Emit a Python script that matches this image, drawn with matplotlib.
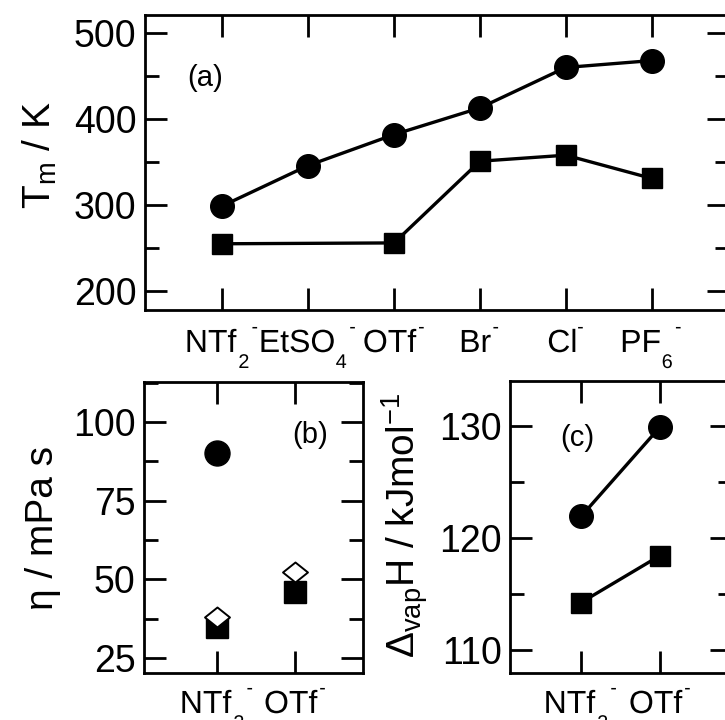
import matplotlib
matplotlib.use('Agg')
import matplotlib.pyplot as plt
from matplotlib.path import Path
from matplotlib.textpath import TextPath
from matplotlib.patches import PathPatch
from matplotlib.font_manager import FontProperties
from matplotlib.transforms import Affine2D, ScaledTranslation
from matplotlib.ticker import MultipleLocator
import numpy as np

plt.rcParams['font.family'] = ['Liberation Sans', 'DejaVu Sans']
plt.rcParams['mathtext.default'] = 'regular'

# panel (a): melting points  (label text, subscript)
anions_a = [('NTf', '2'), ('EtSO', '4'), ('OTf', ''), ('Br', ''), ('Cl', ''), ('PF', '6')]
tm_circle = [299, 346, 382, 413, 460, 468]
sq_idx = [0, 2, 3, 4, 5]
tm_square = [255, 256, 351, 358, 331]

# panel (b): viscosity
anions_bc = [('NTf', '2'), ('OTf', '')]
eta_circle = [90]            # only NTf2
eta_square = [34.9, 45.8]
eta_diamond = [38.0, 52.3]

# panel (c): vaporisation enthalpy
dh_circle = [121.9, 129.9]
dh_square = [114.2, 118.4]

W, H = 725, 720
fig = plt.figure(figsize=(W / 100, H / 100), dpi=100)

def box(l, t, r, b):
    return [l / W, 1 - b / H, (r - l) / W, (b - t) / H]

ax_a = fig.add_axes(box(145, 15, 729, 310))
ax_b = fig.add_axes(box(144, 382, 363, 673))
ax_c = fig.add_axes(box(510, 381, 732, 673))

lw = 2.4
fp = FontProperties(family='Liberation Sans')

def anion_label(ax, x, base, sub, em=32, drop=42):
    # base + subscript + small raised dash, as in the original labels
    p = TextPath((0, 0), base, size=em, prop=fp)
    parts = [p]
    nx = p.get_extents().x1 + 0.06 * em
    if sub:
        ps = TextPath((nx, -0.5 * em), sub, size=0.62 * em, prop=fp)
        parts.append(ps)
        nx = ps.get_extents().x1 + 0.1 * em
    parts.append(TextPath((nx, 0.6 * em), '-', size=0.6 * em, prop=fp))
    path = Path.make_compound_path(*parts)
    ext = path.get_extents()
    cx = (ext.x0 + ext.x1) / 2
    tr = (Affine2D().translate(-cx, -drop)
          + ScaledTranslation(x, 0, ax.get_xaxis_transform()))
    ax.add_patch(PathPatch(path, transform=tr, fc='black', lw=0, clip_on=False))

def style(ax, labels, ymajor, yminor, drop):
    for s in ax.spines.values():
        s.set_linewidth(2.0)
    ax.set_xticks(range(len(labels)))
    ax.set_xticklabels([])
    for i, (base, sub) in enumerate(labels):
        anion_label(ax, i, base, sub, drop=drop)
    ax.yaxis.set_major_locator(MultipleLocator(ymajor))
    ax.yaxis.set_minor_locator(MultipleLocator(yminor))
    ax.tick_params(axis='both', which='both', direction='in', width=2.0)
    ax.tick_params(axis='x', which='major', length=16, top=True)
    ax.tick_params(axis='x', which='minor', bottom=False, top=False)
    ax.tick_params(axis='y', which='major', length=16, right=True, pad=6, labelsize=27)
    ax.tick_params(axis='y', which='minor', length=10, right=True)

# (a)
x_all = np.arange(len(anions_a))
ax_a.plot(x_all, tm_circle, '-o', color='black', lw=lw, ms=17)
ax_a.plot(x_all[sq_idx], tm_square, '-s', color='black', lw=lw, ms=15)
ax_a.set_xlim(-0.9, 5.9)
ax_a.set_ylim(178, 521)
style(ax_a, anions_a, 100, 50, 42)

# (b)
ax_b.plot([0], eta_circle, 'o', color='black', ms=18)
ax_b.plot([0, 1], eta_square, 's', color='black', ms=16)
diamond = Path([(-1.25, 0), (0, 1), (1.25, 0), (0, -1), (-1.25, 0)],
               [Path.MOVETO, Path.LINETO, Path.LINETO, Path.LINETO, Path.CLOSEPOLY])
ax_b.plot([0, 1], eta_diamond, linestyle='none', marker=diamond, ms=18,
          mfc='white', mec='black', mew=1.4)
ax_b.set_xlim(-0.94, 1.87)
ax_b.set_ylim(20.2, 112.7)
style(ax_b, anions_bc, 25, 12.5, 40)

# (c)
ax_c.plot([0, 1], dh_circle, '-o', color='black', lw=lw, ms=17)
ax_c.plot([0, 1], dh_square, '-s', color='black', lw=lw, ms=15)
ax_c.set_xlim(-0.9, 1.91)
ax_c.set_ylim(107.9, 134)
style(ax_c, anions_bc, 10, 5, 40)

# axis titles
fig.text(40 / W, 1 - 155 / H, r'T$_m$ / K', rotation=90, ha='center', va='center', fontsize=28)
fig.text(43 / W, 1 - 528 / H, 'η / mPa s', rotation=90, ha='center', va='center', fontsize=28)
fig.text(405 / W, 1 - 525 / H, r'Δ$_{vap}$H / kJmol$^{-1}$', rotation=90,
         ha='center', va='center', fontsize=28)

# panel labels
fig.text(205 / W, 1 - 78 / H, '(a)', ha='center', va='center', fontsize=21)
fig.text(310 / W, 1 - 435 / H, '(b)', ha='center', va='center', fontsize=21)
fig.text(577 / W, 1 - 438 / H, '(c)', ha='center', va='center', fontsize=21)

fig.savefig('out.png', dpi=100)
